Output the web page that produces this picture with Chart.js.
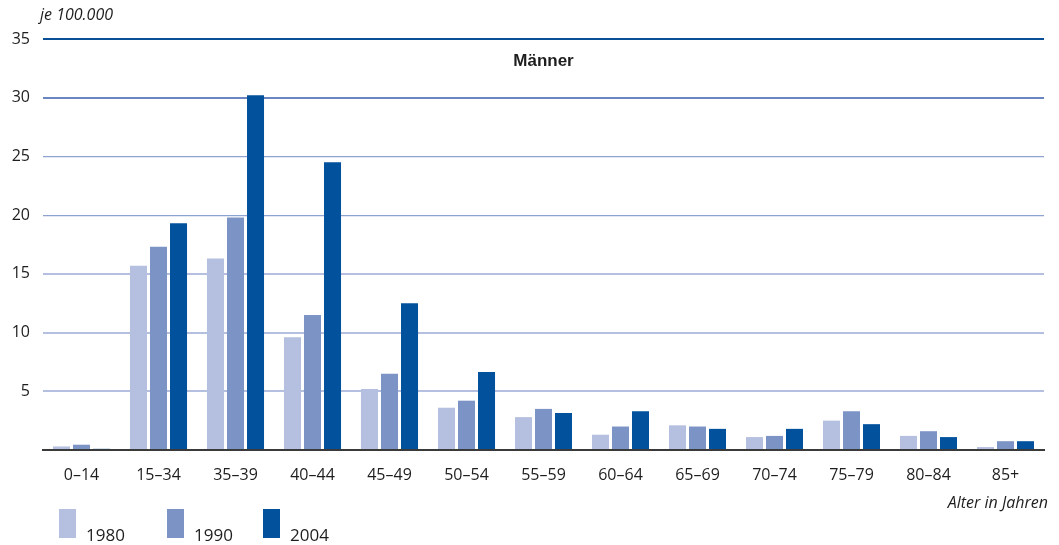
<!DOCTYPE html>
<html>
<head>
<meta charset="utf-8">
<title>Männer je 100.000</title>
<script src="https://cdn.jsdelivr.net/npm/chart.js"></script>
<style>
  html, body { margin: 0; padding: 0; background: #fff; }
  #wrap { width: 1059px; height: 545px; position: relative; }
</style>
</head>
<body>
<div id="wrap"><canvas id="chart" width="1059" height="545"></canvas></div>
<script>
const ageGroups = ['0–14', '15–34', '35–39', '40–44', '45–49', '50–54', '55–59', '60–64', '65–69', '70–74', '75–79', '80–84', '85+'];
const values1980 = [0.3, 15.7, 16.3, 9.6, 5.2, 3.6, 2.8, 1.3, 2.1, 1.1, 2.5, 1.2, 0.25];
const values1990 = [0.45, 17.3, 19.8, 11.5, 6.5, 4.2, 3.5, 2.0, 2.0, 1.2, 3.3, 1.6, 0.75];
const values2004 = [0.1, 19.3, 30.2, 24.5, 12.5, 6.65, 3.15, 3.3, 1.8, 1.8, 2.2, 1.1, 0.75];
const yearLabels = ['1980', '1990', '2004'];
const yearColors = ['#b5bfdf', '#7b93c5', '#02519c'];

const fontFam = '"Open Sans", "DejaVu Sans", sans-serif';

// grid line look per tick value
function gridColor(v) {
    if (v === 35) return '#0a4f96';
    if (v === 30) return '#6a85bf';
    if (v === 25 || v === 20) return '#8fa3d0';
    if (v === 0) return 'rgba(0,0,0,0)';
    return '#b5bfdf';
}
function gridWidth(v) {
    if (v === 25 || v === 20) return 1.2;
    return 2;
}

const extraText = {
    id: 'extraText',
    afterDraw(chart) {
        const ctx = chart.ctx;
        const area = chart.chartArea;
        ctx.save();
        ctx.fillStyle = '#1e1e1e';
        ctx.font = 'italic 16px ' + fontFam;
        ctx.textAlign = 'left';
        ctx.textBaseline = 'alphabetic';
        ctx.fillText('je 100.000', 40, 20);
        ctx.textAlign = 'right';
        ctx.fillText('Alter in Jahren', 1048, 508);

        ctx.font = 'bold 17px "Liberation Sans", Arial, sans-serif';
        ctx.textAlign = 'center';
        ctx.fillText('Männer', (area.left + area.right) / 2, 66);

        // legend from the datasets
        const ds = chart.data.datasets;
        const starts = [59, 167, 263];
        ctx.font = '17px ' + fontFam;
        ctx.textAlign = 'left';
        ds.forEach((d, i) => {
            ctx.fillStyle = d.backgroundColor;
            ctx.fillRect(starts[i], 509, 17, 29);
            ctx.fillStyle = '#1e1e1e';
            ctx.fillText(d.label, starts[i] + 27, 541);
        });
        ctx.restore();
    }
};

const ctx = document.getElementById('chart').getContext('2d');
new Chart(ctx, {
    type: 'bar',
    data: {
        labels: ageGroups,
        datasets: [
            { label: yearLabels[0], data: values1980, backgroundColor: yearColors[0] },
            { label: yearLabels[1], data: values1990, backgroundColor: yearColors[1] },
            { label: yearLabels[2], data: values2004, backgroundColor: yearColors[2] }
        ]
    },
    options: {
        responsive: false,
        animation: false,
        layout: { padding: { top: 39, right: 15, left: 0, bottom: 0 } },
        datasets: {
            bar: { categoryPercentage: 0.78, barPercentage: 0.85 }
        },
        plugins: {
            legend: { display: false },
            title: { display: false },
            tooltip: { enabled: false }
        },
        scales: {
            x: {
                grid: { display: false, drawTicks: false },
                border: { display: true, color: '#3a3a3a', width: 2 },
                ticks: {
                    color: '#1e1e1e',
                    font: { family: fontFam, size: 16 },
                    padding: 16,
                    maxRotation: 0
                },
                afterFit(scale) { scale.height = 95; }
            },
            y: {
                min: 0,
                max: 35,
                border: { display: false },
                grid: {
                    drawTicks: false,
                    color: c => gridColor(c.tick.value),
                    lineWidth: c => gridWidth(c.tick.value)
                },
                ticks: {
                    stepSize: 5,
                    color: '#1e1e1e',
                    font: { family: fontFam, size: 16 },
                    padding: 13,
                    callback: v => (v === 0 ? '' : v)
                },
                afterFit(scale) { scale.width = 43; }
            }
        }
    },
    plugins: [extraText]
});
</script>
</body>
</html>
